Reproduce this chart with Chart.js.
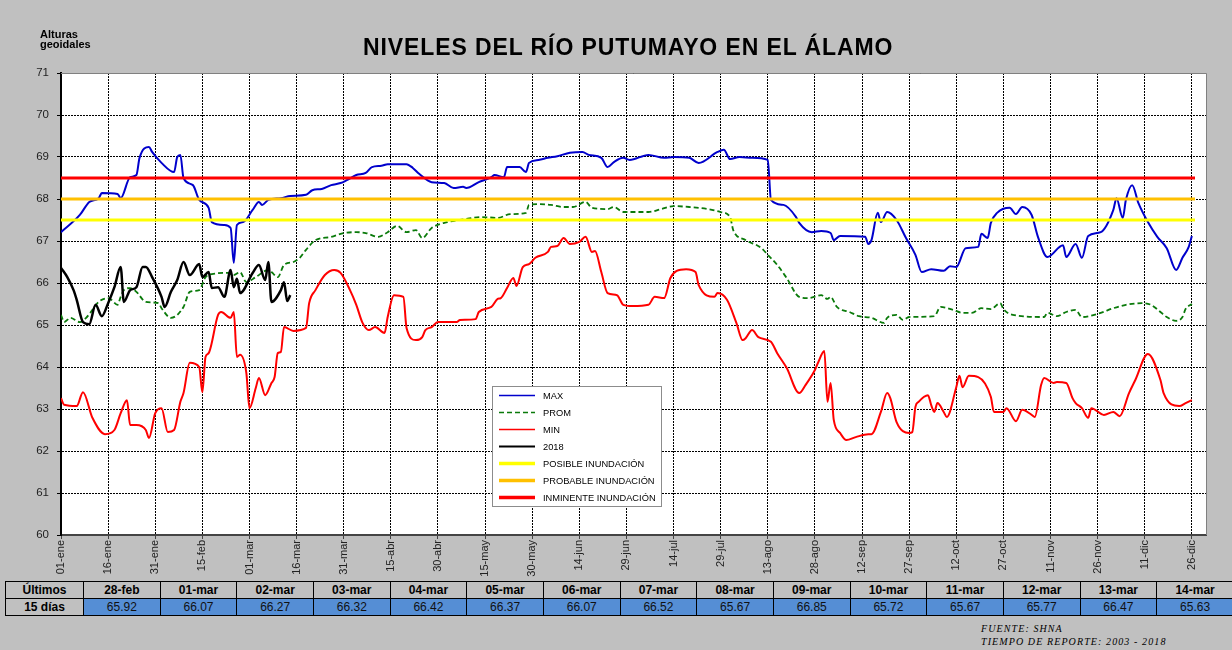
<!DOCTYPE html>
<html>
<head>
<meta charset="utf-8">
<script src="https://cdn.jsdelivr.net/npm/chart.js@4"></script>
<style>
html, body { margin: 0; padding: 0; background: #c0c0c0; width: 1232px; height: 650px; overflow: hidden; font-family: "Liberation Sans", Arial, sans-serif; }
#wrap { position: relative; width: 1232px; height: 650px; }
#chartBox { position: absolute; left: 0; top: 0; width: 1232px; height: 580px; }
#title { position: absolute; left: 363px; top: 34px; font-weight: bold; font-size: 23px; letter-spacing: 0.9px; white-space: nowrap; color: #000; }
#ylab { position: absolute; left: 40px; top: 29px; font-weight: bold; font-size: 11px; line-height: 10px; color: #000; }
#foot { position: absolute; left: 981px; top: 623px; font-family: "Liberation Serif", "Times New Roman", serif; font-style: italic; font-size: 10px; line-height: 12.5px; letter-spacing: 1.1px; color: #000; white-space: nowrap; }
#tbl { position: absolute; left: 5px; top: 581px; border-collapse: collapse; table-layout: fixed; width: 1229px; font-size: 12px; }
#tbl th, #tbl td { border: 1px solid #000; height: 16px; padding: 0; text-align: center; line-height: 16px; }
#tbl th { font-weight: bold; background: #c0c0c0; }
#tbl td { background: #558ed5; color: #111; }
</style>
</head>
<body>
<div id="wrap">
  <div id="chartBox"><canvas id="nivelesChart" width="1232" height="580"></canvas></div>
  <div id="title">NIVELES DEL RÍO PUTUMAYO EN EL ÁLAMO</div>
  <div id="ylab">Alturas<br>geoidales</div>
  <table id="tbl"></table>
  <div id="foot">FUENTE: SHNA<br>TIEMPO DE REPORTE: 2003 - 2018</div>
</div>
<script>
// etiquetas del eje X (una cada 15 días)
const tickLabels = ['01-ene','16-ene','31-ene','15-feb','01-mar','16-mar','31-mar','15-abr','30-abr','15-may','30-may','14-jun','29-jun','14-jul','29-jul','13-ago','28-ago','12-sep','27-sep','12-oct','27-oct','11-nov','26-nov','11-dic','26-dic'];

// MAX
const maxDays = [0,6,9,12,13,18,19,22,24,25,28,29,32,36,37,38,39,42,44,47,48,52,54,55,56,58,61,63,64,66,70,73,78,80,83,86,89,91,94,97,99,102,104,110,112,114,118,122,125,128,129,133,137,138,141,142,146,148,149,152,155,158,162,166,168,172,174,176,179,181,187,192,195,200,203,209,211,213,216,220,225,226,230,234,235,239,242,245,246,248,256,257,258,260,261,263,266,269,272,274,277,281,283,285,288,292,293,295,296,298,302,304,306,309,311,314,319,320,323,325,327,331,335,336,338,339,341,343,346,349,352,355,357,359,360];
const maxVals = [67.21,67.62,67.93,68.02,68.14,68.12,68.02,68.52,68.57,68.98,69.24,69.12,68.86,68.64,69.00,69.05,68.50,68.33,67.98,67.79,67.45,67.38,67.31,66.48,67.38,67.45,67.74,67.93,67.86,67.98,68.02,68.07,68.10,68.21,68.24,68.33,68.38,68.45,68.57,68.62,68.76,68.79,68.83,68.83,68.74,68.60,68.40,68.38,68.26,68.29,68.26,68.40,68.52,68.57,68.52,68.76,68.76,68.64,68.86,68.93,68.98,69.02,69.10,69.12,69.05,68.98,68.76,68.88,68.98,68.93,69.05,68.98,69.00,68.98,68.86,69.12,69.17,68.95,69.00,68.98,68.93,67.98,67.86,67.57,67.43,67.21,67.24,67.19,67.02,67.12,67.10,66.93,67.02,67.67,67.45,67.69,67.50,67.07,66.67,66.26,66.33,66.29,66.40,66.38,66.83,66.86,67.17,67.07,67.43,67.67,67.79,67.64,67.81,67.62,67.10,66.62,66.90,66.62,66.93,66.60,67.12,67.21,67.74,68.02,67.55,67.98,68.33,67.90,67.45,67.10,66.83,66.31,66.60,66.86,67.12];

// PROM
const promDays = [0,1,3,6,8,10,12,15,16,18,19,20,22,24,27,31,32,35,39,41,44,46,48,53,55,57,59,62,66,67,69,71,74,76,78,81,86,90,94,97,101,104,107,110,113,115,118,123,127,134,139,143,148,149,152,156,160,163,167,169,174,176,179,182,187,191,195,200,206,210,213,214,218,223,225,228,231,235,238,242,244,245,247,251,254,258,262,263,266,268,270,278,280,284,287,290,293,296,299,300,303,313,314,317,320,323,325,331,335,339,344,347,350,352,355,357,358,360];
const promVals = [65.24,65.07,65.17,65.07,65.17,65.36,65.55,65.64,65.60,65.48,65.67,65.83,65.88,65.79,65.55,65.52,65.40,65.17,65.43,65.79,65.83,66.14,66.21,66.24,66.19,66.26,66.02,66.14,66.31,66.26,66.14,66.43,66.50,66.60,66.79,67.02,67.10,67.19,67.21,67.19,67.10,67.21,67.36,67.21,67.26,67.07,67.31,67.45,67.50,67.57,67.55,67.64,67.67,67.86,67.88,67.86,67.81,67.81,67.93,67.79,67.76,67.81,67.69,67.69,67.69,67.76,67.83,67.81,67.76,67.69,67.57,67.26,67.02,66.83,66.67,66.43,66.12,65.67,65.64,65.71,65.62,65.67,65.43,65.31,65.21,65.17,65.05,65.17,65.24,65.12,65.19,65.21,65.43,65.36,65.29,65.29,65.40,65.38,65.52,65.38,65.24,65.19,65.29,65.21,65.31,65.36,65.19,65.29,65.40,65.48,65.52,65.48,65.31,65.19,65.10,65.19,65.38,65.50];

// MIN
const minDays = [0,1,5,7,10,14,17,19,21,22,24,27,28,30,32,34,36,38,39,41,44,45,46,47,50,51,54,55,56,57,59,60,62,63,65,67,68,69,70,71,74,78,79,81,84,87,89,92,94,96,98,100,103,104,106,109,110,113,115,116,118,120,126,127,132,133,137,139,140,142,144,145,147,149,151,155,156,158,160,162,165,167,169,170,172,174,177,179,182,187,189,192,194,196,199,202,203,208,209,212,215,217,218,220,222,226,228,231,235,237,240,241,243,244,245,246,248,250,253,257,258,261,263,264,266,270,271,272,273,276,277,278,279,281,282,285,286,287,289,292,296,297,300,301,304,306,309,310,312,313,316,317,320,322,323,325,327,328,332,335,337,340,342,346,350,351,356,358,360];
const minVals = [63.26,63.10,63.07,63.40,62.79,62.40,62.50,62.90,63.21,62.62,62.62,62.50,62.31,62.90,63.02,62.45,62.50,63.17,63.38,64.10,64.00,63.40,64.24,64.33,65.24,65.31,65.17,65.31,64.24,64.29,63.86,63.02,63.50,63.74,63.33,63.62,63.76,64.33,64.36,64.95,64.86,64.93,65.52,65.83,66.19,66.31,66.24,65.83,65.48,65.05,64.88,64.95,64.81,65.19,65.71,65.67,64.93,64.64,64.71,64.88,64.95,65.07,65.07,65.12,65.14,65.31,65.43,65.62,65.64,65.88,66.12,65.93,66.38,66.45,66.60,66.74,66.86,66.88,67.07,66.93,66.98,67.10,66.74,66.76,66.26,65.76,65.71,65.48,65.45,65.48,65.67,65.64,66.12,66.29,66.33,66.26,65.95,65.67,65.76,65.60,65.05,64.64,64.69,64.88,64.71,64.60,64.33,63.98,63.38,63.57,63.93,64.10,64.38,63.17,63.62,62.74,62.43,62.26,62.33,62.40,62.40,62.93,63.38,63.26,62.69,62.43,62.45,63.05,63.17,63.33,63.10,62.93,63.14,62.93,62.81,63.52,63.79,63.52,63.79,63.76,63.29,62.93,62.93,63.02,62.71,62.98,62.86,62.81,63.57,63.74,63.62,63.64,63.62,63.26,63.14,63.02,62.79,63.02,62.86,62.93,62.83,63.38,63.69,64.31,63.69,63.38,63.07,63.14,63.21];

// 2018
const y2018Days = [0,2,4,5,7,9,11,13,15,17,19,20,22,24,26,27,29,32,33,35,37,39,41,44,45,47,48,50,52,54,55,56,57,61,63,65,66,67,70,71,72,73];
const y2018Vals = [66.36,66.14,65.83,65.60,65.07,65.02,65.48,65.21,65.52,65.90,66.38,65.55,65.83,65.90,66.38,66.38,66.14,65.67,65.43,65.79,66.07,66.50,66.19,66.45,66.14,66.26,65.88,65.90,65.67,66.31,65.90,66.10,65.76,66.24,66.43,66.07,66.50,65.55,65.83,66.02,65.57,65.71];

// umbrales de inundación
const thresholdDays = [0, 361];
const posibleLevel = 67.5;
const probableLevel = 68.0;
const inminenteLevel = 68.5;

// tabla de los últimos 15 días
const tableDates = ['28-feb','01-mar','02-mar','03-mar','04-mar','05-mar','06-mar','07-mar','08-mar','09-mar','10-mar','11-mar','12-mar','13-mar','14-mar'];
const tableValues = ['65.92','66.07','66.27','66.32','66.42','66.37','66.07','66.52','65.67','66.85','65.72','65.67','65.77','66.47','65.63'];

function toPoints(days, vals) {
    return days.map((d, i) => ({ x: d, y: vals[i] }));
}
function flat(level) {
    return thresholdDays.map(d => ({ x: d, y: level }));
}

// tabla
(function buildTable() {
    const tbl = document.getElementById('tbl');
    let html = '<colgroup><col style="width:78px">' + tableDates.map(() => '<col>').join('') + '</colgroup>';
    html += '<tr><th>Últimos</th>' + tableDates.map(d => `<th>${d}</th>`).join('') + '</tr>';
    html += '<tr><th>15 días</th>' + tableValues.map(v => `<td>${v}</td>`).join('') + '</tr>';
    tbl.innerHTML = html;
})();

// fondo blanco y borde del área de trazado
const plotFrame = {
    id: 'plotFrame',
    beforeDraw(chart) {
        const { ctx, chartArea: a } = chart;
        ctx.save();
        ctx.fillStyle = '#fff';
        ctx.fillRect(a.left, a.top, a.right - a.left, a.bottom - a.top);
        ctx.restore();
    },
    afterDraw(chart) {
        const { ctx, chartArea: a } = chart;
        ctx.save();
        ctx.strokeStyle = '#808080';
        ctx.lineWidth = 1;
        ctx.beginPath();
        ctx.moveTo(a.left, a.top + 0.5);
        ctx.lineTo(a.right + 0.5, a.top + 0.5);
        ctx.lineTo(a.right + 0.5, a.bottom);
        ctx.stroke();
        ctx.restore();
    }
};

// leyenda dentro del gráfico
const boxLegend = {
    id: 'boxLegend',
    afterDraw(chart) {
        const ctx = chart.ctx;
        const x0 = 492, y0 = 386, w = 169, h = 120;
        ctx.save();
        ctx.fillStyle = '#fff';
        ctx.fillRect(x0, y0, w, h);
        ctx.strokeStyle = '#8c8c8c';
        ctx.lineWidth = 1;
        ctx.strokeRect(x0 + 0.5, y0 + 0.5, w, h);
        ctx.font = '9.3px "Liberation Sans", Arial';
        ctx.textBaseline = 'middle';
        chart.data.datasets.forEach((ds, i) => {
            const y = y0 + 9.5 + i * 17;
            ctx.strokeStyle = ds.borderColor;
            ctx.lineWidth = ds.legendWidth;
            ctx.setLineDash(ds.borderDash || []);
            ctx.beginPath();
            ctx.moveTo(x0 + 7, y);
            ctx.lineTo(x0 + 43, y);
            ctx.stroke();
            ctx.setLineDash([]);
            ctx.fillStyle = '#000';
            ctx.fillText(ds.label, x0 + 51, y + 0.5);
        });
        ctx.restore();
    }
};

Chart.defaults.font.family = '"Liberation Sans", Arial, sans-serif';
Chart.defaults.color = '#222';

new Chart(document.getElementById('nivelesChart'), {
    type: 'line',
    data: {
        datasets: [
            { label: 'MAX', data: toPoints(maxDays, maxVals), borderColor: '#0000cc', borderWidth: 2, legendWidth: 1.5, order: 5 },
            { label: 'PROM', data: toPoints(promDays, promVals), borderColor: '#0a7a0a', borderWidth: 1.8, borderDash: [5, 3], legendWidth: 1.5, order: 4 },
            { label: 'MIN', data: toPoints(minDays, minVals), borderColor: '#ff0000', borderWidth: 2, legendWidth: 1.5, order: 3 },
            { label: '2018', data: toPoints(y2018Days, y2018Vals), borderColor: '#000000', borderWidth: 2.5, legendWidth: 2, order: 2 },
            { label: 'POSIBLE INUNDACIÓN', data: flat(posibleLevel), borderColor: '#ffff00', borderWidth: 3, legendWidth: 3.5, order: 1 },
            { label: 'PROBABLE INUNDACIÓN', data: flat(probableLevel), borderColor: '#ffc000', borderWidth: 3, legendWidth: 3.5, order: 1 },
            { label: 'INMINENTE INUNDACIÓN', data: flat(inminenteLevel), borderColor: '#ff0000', borderWidth: 3, legendWidth: 3.5, order: 0 }
        ]
    },
    options: {
        responsive: false,
        animation: false,
        events: [],
        layout: { padding: { top: 73, right: 26, left: 0, bottom: 0 } },
        elements: {
            point: { radius: 0 },
            line: { cubicInterpolationMode: 'monotone', borderCapStyle: 'butt' }
        },
        plugins: {
            legend: { display: false },
            tooltip: { enabled: false },
            title: { display: false }
        },
        scales: {
            x: {
                type: 'linear',
                min: 0,
                max: 364.5,
                afterBuildTicks: axis => { axis.ticks = tickLabels.map((_, i) => ({ value: i * 15 })); },
                afterFit: axis => { axis.height = 45; },
                ticks: {
                    autoSkip: false,
                    minRotation: 90,
                    maxRotation: 90,
                    padding: 1,
                    font: { size: 11 },
                    color: '#222',
                    callback: v => tickLabels[Math.round(v / 15)]
                },
                grid: { color: '#000', lineWidth: 1, tickLength: 4, tickColor: '#444' },
                border: { display: true, color: '#444', width: 2, dash: [2, 1] }
            },
            y: {
                min: 60,
                max: 71,
                afterFit: axis => { axis.width = 61; },
                ticks: { stepSize: 1, padding: 8, font: { size: 11.5 }, color: '#222' },
                grid: { color: '#000', lineWidth: 1, tickLength: 4, tickColor: '#000' },
                border: { display: true, color: '#000', width: 2, dash: [2, 1] }
            }
        }
    },
    plugins: [plotFrame, boxLegend]
});
</script>
</body>
</html>
